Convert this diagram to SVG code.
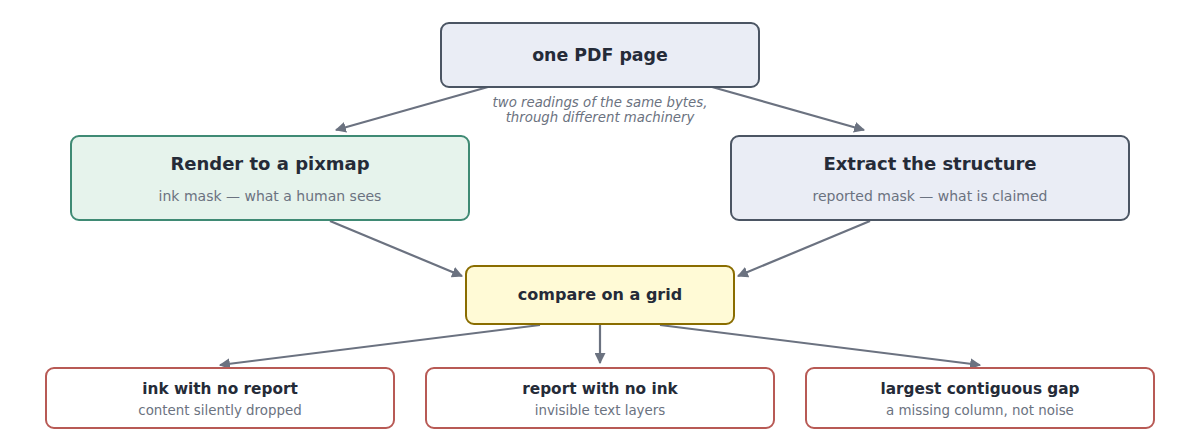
<svg xmlns="http://www.w3.org/2000/svg" width="1200" height="440" viewBox="0 0 1200 440">
<style>
text{font-family:"DejaVu Sans","Liberation Sans",sans-serif;text-anchor:middle}
.t{font-weight:bold;fill:#252b38}
.s{fill:#6b7280;font-size:14px}
.bs{fill:#6b7280;font-size:13.4px}
.slate{fill:#eaedf5;stroke:#4b5563;stroke-width:2}
.green{fill:#e6f3ec;stroke:#3f8a74;stroke-width:2}
.yel{fill:#fffad6;stroke:#8a6d00;stroke-width:2}
.red{fill:#ffffff;stroke:#b85a55;stroke-width:2}
.e{stroke:#6b7280;stroke-width:2.2;fill:none;marker-end:url(#ah)}
.lbl{fill:#6b7280;font-size:13.3px;font-style:italic}
</style>
<defs>
<marker id="ah" viewBox="0 0 10 10" refX="9" refY="5" markerWidth="5" markerHeight="5" orient="auto" markerUnits="strokeWidth">
<path d="M0,0 L10,5 L0,10 z" fill="#6b7280"/>
</marker>
</defs>
<g id="connectors">
<line class="e" x1="495" y1="85" x2="336" y2="130"/>
<line class="e" x1="705" y1="85" x2="864" y2="130"/>
<line class="e" x1="330" y1="221" x2="462" y2="276"/>
<line class="e" x1="870" y1="221" x2="738" y2="276"/>
<line class="e" x1="540" y1="325" x2="220" y2="365"/>
<line class="e" x1="600" y1="325" x2="600" y2="363"/>
<line class="e" x1="660" y1="325" x2="980" y2="365"/>
<text class="lbl" x="600" y="107">two readings of the same bytes,</text>
<text class="lbl" x="600" y="122">through different machinery</text>
</g>
<g id="pdf">
<rect class="slate" x="441" y="23" width="318" height="64" rx="8"/>
<text class="t" x="600" y="61" font-size="17.4">one PDF page</text>
</g>
<g id="render">
<rect class="green" x="71" y="136" width="398" height="84" rx="8"/>
<text class="t" x="270" y="170" font-size="18">Render to a pixmap</text>
<text class="s" x="270" y="201">ink mask — what a human sees</text>
</g>
<g id="extract">
<rect class="slate" x="731" y="136" width="398" height="84" rx="8"/>
<text class="t" x="930" y="170" font-size="18">Extract the structure</text>
<text class="s" x="930" y="201">reported mask — what is claimed</text>
</g>
<g id="compare">
<rect class="yel" x="466" y="266" width="268" height="58" rx="8"/>
<text class="t" x="600" y="300" font-size="16">compare on a grid</text>
</g>
<g id="ink">
<rect class="red" x="46" y="368" width="348" height="60" rx="8"/>
<text class="t" x="220" y="394" font-size="15.3">ink with no report</text>
<text class="bs" x="220" y="415">content silently dropped</text>
</g>
<g id="report">
<rect class="red" x="426" y="368" width="348" height="60" rx="8"/>
<text class="t" x="600" y="394" font-size="15.3">report with no ink</text>
<text class="bs" x="600" y="415">invisible text layers</text>
</g>
<g id="gap">
<rect class="red" x="806" y="368" width="348" height="60" rx="8"/>
<text class="t" x="980" y="394" font-size="15.3">largest contiguous gap</text>
<text class="bs" x="980" y="415">a missing column, not noise</text>
</g>
</svg>
